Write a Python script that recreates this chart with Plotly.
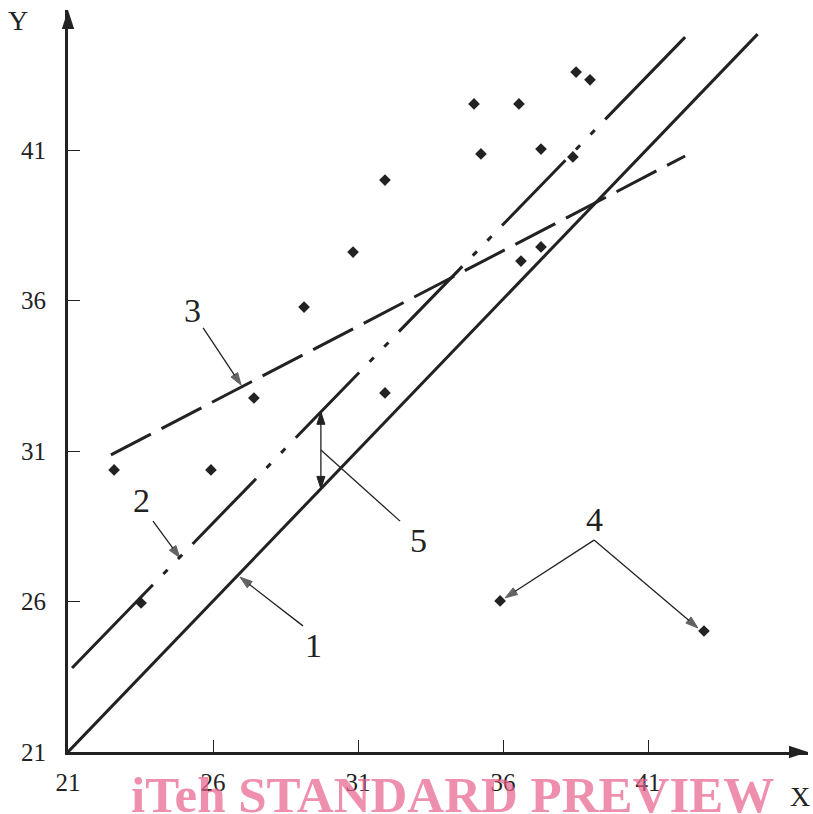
import numpy as np
import plotly.graph_objects as go

# ---------------- data ----------------
pts_x = [22.59, 23.52, 25.93, 27.41, 29.14, 30.83, 31.93, 31.93, 35.00, 35.24,
         36.55, 37.31, 36.62, 37.31, 38.41, 38.52, 39.00]
pts_y = [30.37, 25.95, 30.37, 32.76, 35.78, 37.61, 40.00, 32.93, 42.53, 40.87,
         42.53, 41.03, 37.31, 37.78, 40.77, 43.59, 43.33]
outlier_x = [35.90, 42.93]
outlier_y = [26.02, 25.02]

line1_x = [21.0, 44.78]
line1_y = [21.0, 44.85]
line2_x = [21.14, 42.28]
line2_y = [23.79, 44.75]
line3_x = [22.48, 42.28]
line3_y = [30.87, 40.80]

tick_vals = [21, 26, 31, 36, 41]
tick_text = ["21", "26", "31", "36", "41"]

# label positions (data coordinates)
labels = ["1", "2", "3", "4", "5"]
label_x = [29.48, 23.52, 25.31, 39.14, 33.07]
label_y = [24.55, 29.37, 35.68, 28.71, 28.04]

# leader lines: tail -> head
lead1 = ([29.10, 26.93], [25.19, 26.81])
lead2 = ([23.93, 24.86], [28.67, 27.45])
lead3 = ([25.66, 26.97], [35.09, 33.19])
lead4a = ([39.14, 36.07], [28.04, 26.12])
lead4b = ([39.14, 42.72], [28.04, 25.12])
lead5 = ([32.45, 29.72], [28.67, 31.03])
gap_x = 29.72

# ---------------- layout constants ----------------
X_MIN, Y_MIN = 21.0, 21.0
X_MAX = 21 + 740 / 29.0
Y_MAX = 21 + 742 / 30.1
INK = "#222222"
SERIF = "Liberation Serif, Times New Roman, serif"

fig = go.Figure()

def dash_list():
    g, d = 15, 6
    grp = [g, d, g, d, g]
    seq = [116] + grp
    for _ in range(4):
        seq += [91] + grp
    seq += [116, 300]
    return ",".join(f"{v}px" for v in seq)

# regression / reference lines
fig.add_trace(go.Scatter(x=line1_x, y=line1_y, mode="lines",
                         line=dict(color=INK, width=3), hoverinfo="skip"))
fig.add_trace(go.Scatter(x=line2_x, y=line2_y, mode="lines",
                         line=dict(color=INK, width=3, dash=dash_list()), hoverinfo="skip"))
fig.add_trace(go.Scatter(x=line3_x, y=line3_y, mode="lines",
                         line=dict(color=INK, width=3, dash="45px,12px"), hoverinfo="skip"))

# points
fig.add_trace(go.Scatter(x=pts_x + outlier_x, y=pts_y + outlier_y, mode="markers",
                         marker=dict(symbol="diamond", size=9, color=INK,
                                     line=dict(width=0)), hoverinfo="skip"))

# leader lines with arrow heads
def leader(xy, head=True, size=13):
    xs, ys = xy
    fig.add_trace(go.Scatter(
        x=xs, y=ys, mode="lines+markers" if head else "lines",
        line=dict(color=INK, width=1.3),
        marker=dict(symbol="arrow", size=[0, size], color=INK,
                    angleref="previous", line=dict(width=1, color=INK)),
        hoverinfo="skip", cliponaxis=False))

for ld in [lead1, lead2, lead3, lead4a, lead4b]:
    leader(ld)
leader(lead5, head=False)

# double-headed arrow (5) between line 2 and line 1
y_top = float(np.interp(gap_x, line2_x, line2_y))
y_bot = float(np.interp(gap_x, line1_x, line1_y))
fig.add_trace(go.Scatter(
    x=[gap_x, gap_x], y=[y_top, y_bot], mode="lines+markers",
    line=dict(color=INK, width=1.3),
    marker=dict(symbol="arrow", size=13, color=INK, angle=[0, 180],
                line=dict(width=1, color=INK)),
    hoverinfo="skip", cliponaxis=False))

# axis arrow heads
fig.add_trace(go.Scatter(
    x=[X_MAX, X_MIN], y=[Y_MIN, Y_MAX], mode="markers",
    marker=dict(symbol="arrow", size=20, color=INK, angle=[90, 0],
                line=dict(width=0)),
    hoverinfo="skip", cliponaxis=False))

# number labels
for t, lx, ly in zip(labels, label_x, label_y):
    fig.add_annotation(x=lx, y=ly, text=t, showarrow=False,
                       xanchor="center", yanchor="middle",
                       font=dict(family=SERIF, size=34, color=INK))

# axis titles
fig.add_annotation(x=-0.0676, y=0.9865, xref="paper", yref="paper", text="Y",
                   showarrow=False, xanchor="center", yanchor="middle",
                   font=dict(family=SERIF, size=28, color=INK))
fig.add_annotation(x=0.989, y=-0.0606, xref="paper", yref="paper", text="X",
                   showarrow=False, xanchor="center", yanchor="middle",
                   font=dict(family=SERIF, size=28, color=INK))

# watermark
fig.add_annotation(x=0.519, y=-0.058, xref="paper", yref="paper",
                   text="<b>iTeh STANDARD PREVIEW</b>", showarrow=False,
                   xanchor="center", yanchor="middle", borderpad=0,
                   font=dict(family=SERIF, size=51, color="rgba(232,95,139,0.7)"))

axis_common = dict(showgrid=False, zeroline=False, showline=True, linewidth=3,
                   linecolor=INK, ticks="inside", ticklen=12, tickwidth=1.3,
                   tickcolor=INK, tickvals=tick_vals, ticktext=tick_text,
                   tickfont=dict(family=SERIF, size=25, color=INK))

fig.update_layout(
    width=813, height=814,
    margin=dict(l=68, r=5, t=10, b=62),
    plot_bgcolor="white", paper_bgcolor="white",
    showlegend=False,
    xaxis=dict(range=[X_MIN, X_MAX], ticklabelstandoff=6, **axis_common),
    yaxis=dict(range=[Y_MIN, Y_MAX], ticklabelstandoff=14, **axis_common),
)

fig.write_html("out.html", config={"displayModeBar": False},
               post_script="document.body.style.margin='0';")
